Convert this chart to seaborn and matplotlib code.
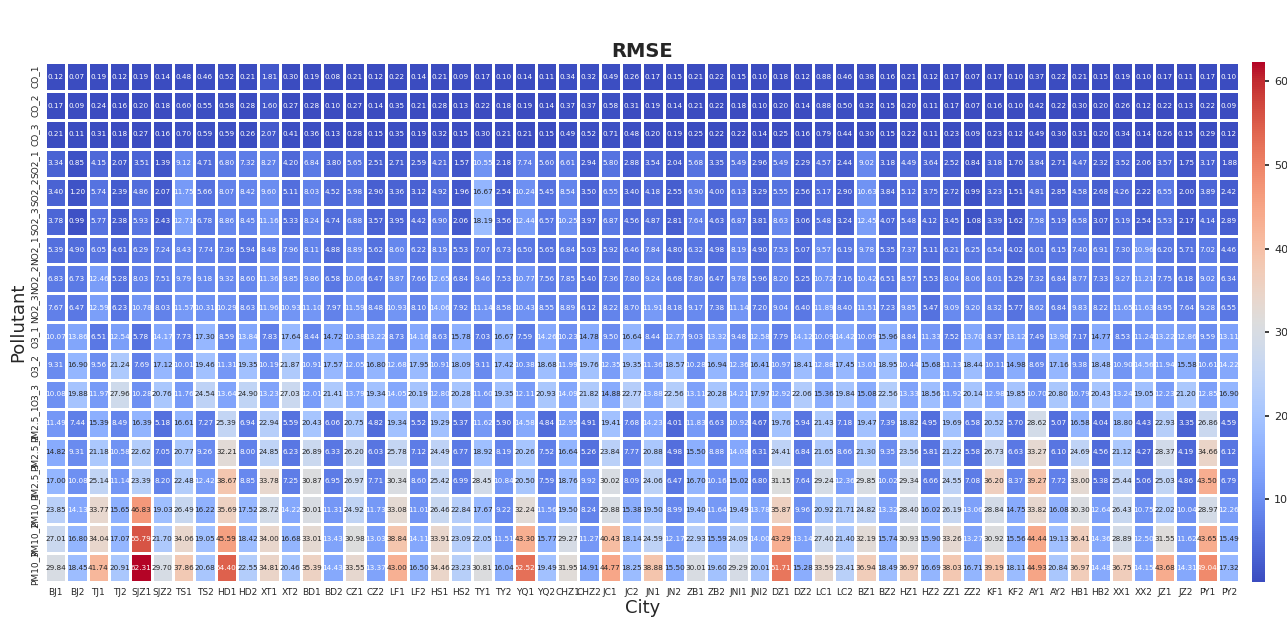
import numpy as np
import pandas as pd
import seaborn as sns
import matplotlib
matplotlib.use("Agg")
import matplotlib.pyplot as plt

cities = ["BJ1", "BJ2", "TJ1", "TJ2", "SJZ1", "SJZ2", "TS1", "TS2", "HD1", "HD2",
          "XT1", "XT2", "BD1", "BD2", "CZ1", "CZ2", "LF1", "LF2", "HS1", "HS2",
          "TY1", "TY2", "YQ1", "YQ2", "CHZ1", "CHZ2", "JC1", "JC2", "JN1", "JN2",
          "ZB1", "ZB2", "JNI1", "JNI2", "DZ1", "DZ2", "LC1", "LC2", "BZ1", "BZ2",
          "HZ1", "HZ2", "ZZ1", "ZZ2", "KF1", "KF2", "AY1", "AY2", "HB1", "HB2",
          "XX1", "XX2", "JZ1", "JZ2", "PY1", "PY2"]

pollutants = ["CO_1", "CO_2", "CO_3", "SO2_1", "SO2_2", "SO2_3",
              "NO2_1", "NO2_2", "NO2_3", "O3_1", "O3_2", "O3_3",
              "PM2.5_1", "PM2.5_2", "PM2.5_3", "PM10_1", "PM10_2", "PM10_3"]

co_1 = [0.12, 0.07, 0.19, 0.12, 0.19, 0.14, 0.48, 0.46, 0.52, 0.21, 1.81, 0.30, 0.19, 0.08,
        0.21, 0.12, 0.22, 0.14, 0.21, 0.09, 0.17, 0.10, 0.14, 0.11, 0.34, 0.32, 0.49, 0.26,
        0.17, 0.15, 0.21, 0.22, 0.15, 0.10, 0.18, 0.12, 0.88, 0.46, 0.38, 0.16, 0.21, 0.12,
        0.17, 0.07, 0.17, 0.10, 0.37, 0.22, 0.21, 0.15, 0.19, 0.10, 0.17, 0.11, 0.17, 0.10]
co_2 = [0.17, 0.09, 0.24, 0.16, 0.20, 0.18, 0.60, 0.55, 0.58, 0.28, 1.60, 0.27, 0.28, 0.10,
        0.27, 0.14, 0.35, 0.21, 0.28, 0.13, 0.22, 0.18, 0.19, 0.14, 0.37, 0.37, 0.58, 0.31,
        0.19, 0.14, 0.21, 0.22, 0.18, 0.10, 0.20, 0.14, 0.88, 0.50, 0.32, 0.15, 0.20, 0.11,
        0.17, 0.07, 0.16, 0.10, 0.42, 0.22, 0.30, 0.20, 0.26, 0.12, 0.22, 0.13, 0.22, 0.09]
co_3 = [0.21, 0.11, 0.31, 0.18, 0.27, 0.16, 0.70, 0.59, 0.59, 0.26, 2.07, 0.41, 0.36, 0.13,
        0.28, 0.15, 0.35, 0.19, 0.32, 0.15, 0.30, 0.21, 0.21, 0.15, 0.49, 0.52, 0.71, 0.48,
        0.20, 0.19, 0.25, 0.22, 0.22, 0.14, 0.25, 0.16, 0.79, 0.44, 0.30, 0.15, 0.22, 0.11,
        0.23, 0.09, 0.23, 0.12, 0.49, 0.30, 0.31, 0.20, 0.34, 0.14, 0.26, 0.15, 0.29, 0.12]
so2_1 = [3.34, 0.85, 4.15, 2.07, 3.51, 1.39, 9.12, 4.71, 6.80, 7.32, 8.27, 4.20, 6.84, 3.80,
         5.65, 2.51, 2.71, 2.59, 4.21, 1.57, 10.55, 2.18, 7.74, 5.60, 6.61, 2.94, 5.80, 2.88,
         3.54, 2.04, 5.68, 3.35, 5.49, 2.96, 5.49, 2.29, 4.57, 2.44, 9.02, 3.18, 4.49, 3.64,
         2.52, 0.84, 3.18, 1.70, 3.84, 2.71, 4.47, 2.32, 3.52, 2.06, 3.57, 1.75, 3.17, 1.88]
so2_2 = [3.40, 1.20, 5.74, 2.39, 4.86, 2.07, 11.75, 5.66, 8.07, 8.42, 9.60, 5.11, 8.03, 4.52,
         5.98, 2.90, 3.36, 3.12, 4.92, 1.96, 16.67, 2.54, 10.24, 5.45, 8.54, 3.50, 6.55, 3.40,
         4.18, 2.55, 6.90, 4.00, 6.13, 3.29, 5.55, 2.56, 5.17, 2.90, 10.63, 3.84, 5.12, 3.75,
         2.72, 0.99, 3.23, 1.51, 4.81, 2.85, 4.58, 2.68, 4.26, 2.22, 6.55, 2.00, 3.89, 2.42]
so2_3 = [3.78, 0.99, 5.77, 2.38, 5.93, 2.43, 12.71, 6.78, 8.86, 8.45, 11.16, 5.33, 8.24, 4.74,
         6.88, 3.57, 3.95, 4.42, 6.90, 2.06, 18.19, 3.56, 12.44, 6.57, 10.25, 3.97, 6.87, 4.56,
         4.87, 2.81, 7.64, 4.63, 6.87, 3.81, 8.63, 3.06, 5.48, 3.24, 12.45, 4.07, 5.48, 4.12,
         3.45, 1.08, 3.39, 1.62, 7.58, 5.19, 6.58, 3.07, 5.19, 2.54, 5.53, 2.17, 4.14, 2.89]
no2_1 = [5.39, 4.90, 6.05, 4.61, 6.29, 7.24, 8.43, 7.74, 7.36, 5.94, 8.48, 7.96, 8.11, 4.88,
         8.89, 5.62, 8.60, 6.22, 8.19, 5.53, 7.07, 6.73, 6.50, 5.65, 6.84, 5.03, 5.92, 6.46,
         7.84, 4.80, 6.32, 4.98, 8.19, 4.90, 7.53, 5.07, 9.57, 6.19, 9.78, 5.35, 7.37, 5.11,
         6.21, 6.25, 6.54, 4.02, 6.01, 6.15, 7.40, 6.91, 7.30, 10.96, 6.20, 5.71, 7.02, 4.46]
no2_2 = [6.83, 6.73, 12.46, 5.28, 8.03, 7.51, 9.79, 9.18, 9.32, 8.60, 11.36, 9.85, 9.86, 6.58,
         10.06, 6.47, 9.87, 7.66, 12.65, 6.84, 9.46, 7.53, 10.77, 7.56, 7.85, 5.40, 7.36, 7.80,
         9.24, 6.68, 7.80, 6.47, 9.78, 5.96, 8.20, 5.25, 10.72, 7.16, 10.42, 6.51, 8.57, 5.53,
         8.04, 8.06, 8.01, 5.29, 7.32, 6.84, 8.77, 7.33, 9.27, 11.21, 7.75, 6.18, 9.02, 6.34]
no2_3 = [7.67, 6.47, 12.59, 6.23, 10.78, 8.03, 11.57, 10.31, 10.29, 8.63, 11.96, 10.93, 11.10, 7.97,
         11.59, 8.48, 10.93, 8.10, 14.06, 7.92, 11.14, 8.58, 10.43, 8.55, 8.89, 6.12, 8.22, 8.70,
         11.91, 8.18, 9.17, 7.38, 11.14, 7.20, 9.04, 6.40, 11.89, 8.40, 11.51, 7.23, 9.85, 5.47,
         9.09, 9.20, 8.32, 5.77, 8.62, 6.84, 9.83, 8.22, 11.65, 11.63, 8.95, 7.64, 9.28, 6.55]
o3_1 = [10.07, 13.86, 6.51, 12.54, 5.78, 14.17, 7.73, 17.30, 8.59, 13.84, 7.83, 17.64, 8.44, 14.72,
        10.38, 13.22, 8.73, 14.16, 8.63, 15.78, 7.03, 16.67, 7.59, 14.26, 10.23, 14.78, 9.50, 16.64,
        8.44, 12.77, 9.03, 13.32, 9.48, 12.58, 7.79, 14.12, 10.09, 14.42, 10.09, 15.96, 8.84, 11.33,
        7.52, 13.70, 8.37, 13.12, 7.49, 13.90, 7.17, 14.77, 8.53, 11.24, 13.22, 12.86, 9.59, 13.11]
o3_2 = [9.31, 16.90, 9.56, 21.24, 7.69, 17.12, 10.01, 19.46, 11.31, 19.35, 10.19, 21.87, 10.91, 17.57,
        12.05, 16.80, 12.68, 17.95, 10.91, 18.09, 9.11, 17.42, 10.38, 18.68, 11.99, 19.76, 12.35, 19.35,
        11.36, 18.57, 10.28, 16.94, 12.36, 16.41, 10.97, 18.41, 12.88, 17.45, 13.01, 18.95, 10.44, 15.68,
        11.13, 18.44, 10.11, 14.98, 8.69, 17.16, 9.38, 18.48, 10.90, 14.56, 11.94, 15.58, 10.61, 14.22]
o3_3 = [10.08, 19.88, 11.97, 27.96, 10.28, 20.76, 11.76, 24.54, 13.64, 24.90, 13.23, 27.03, 12.01, 21.41,
        13.79, 19.34, 14.05, 20.19, 12.80, 20.28, 11.60, 19.35, 12.11, 20.93, 14.09, 21.82, 14.88, 22.77,
        13.88, 22.56, 13.11, 20.28, 14.21, 17.97, 12.92, 22.06, 15.36, 19.84, 15.08, 22.56, 13.33, 18.56,
        11.92, 20.14, 12.98, 19.85, 10.70, 20.80, 10.79, 20.43, 13.24, 19.05, 12.23, 21.20, 12.85, 16.90]
pm25_1 = [11.49, 7.44, 15.39, 8.49, 16.39, 5.18, 16.61, 7.27, 25.39, 6.94, 22.94, 5.59, 20.43, 6.06,
          20.75, 4.82, 19.34, 5.52, 19.29, 5.37, 11.62, 5.90, 14.58, 4.84, 12.95, 4.91, 19.41, 7.68,
          14.23, 4.01, 11.83, 6.63, 10.92, 4.67, 19.76, 5.94, 21.43, 7.18, 19.47, 7.39, 18.82, 4.95,
          19.69, 6.58, 20.52, 5.70, 28.62, 5.07, 16.58, 4.04, 18.80, 4.43, 22.93, 3.35, 26.86, 4.59]
pm25_2 = [14.82, 9.31, 21.18, 10.58, 22.62, 7.05, 20.77, 9.26, 32.21, 8.00, 24.85, 6.23, 26.89, 6.33,
          26.20, 6.03, 25.78, 7.12, 24.49, 6.77, 18.92, 8.19, 20.26, 7.52, 16.64, 5.26, 23.84, 7.77,
          20.88, 4.98, 15.50, 8.88, 14.08, 6.31, 24.41, 6.84, 21.65, 8.66, 21.30, 9.35, 23.56, 5.81,
          21.22, 5.58, 26.73, 6.63, 33.27, 6.10, 24.69, 4.56, 21.12, 4.27, 28.37, 4.19, 34.66, 6.12]
pm25_3 = [17.00, 10.08, 25.14, 11.14, 23.39, 8.20, 22.48, 12.42, 38.67, 8.85, 33.78, 7.25, 30.87, 6.95,
          26.97, 7.71, 30.34, 8.60, 25.42, 6.99, 28.45, 10.84, 20.50, 7.59, 18.76, 9.92, 30.02, 8.09,
          24.06, 6.47, 16.70, 10.16, 15.02, 6.80, 31.15, 7.64, 29.24, 12.36, 29.85, 10.02, 29.34, 6.66,
          24.55, 7.08, 36.20, 8.37, 39.27, 7.72, 33.00, 5.38, 25.44, 5.06, 25.03, 4.86, 43.50, 6.79]
pm10_1 = [23.85, 14.13, 33.77, 15.65, 46.83, 19.03, 26.49, 16.22, 35.69, 17.52, 28.72, 14.22, 30.01, 11.31,
          24.92, 11.73, 33.08, 11.01, 26.46, 22.84, 17.67, 9.22, 32.24, 11.56, 19.50, 8.24, 29.88, 15.38,
          19.50, 8.99, 19.40, 11.64, 19.49, 13.78, 35.87, 9.96, 20.92, 21.71, 24.82, 13.32, 28.40, 16.02,
          26.19, 13.06, 28.84, 14.75, 33.82, 16.08, 30.30, 12.64, 26.43, 10.75, 22.02, 10.04, 28.97, 12.26]
pm10_2 = [27.01, 16.80, 34.04, 17.07, 55.79, 21.70, 34.06, 19.05, 45.59, 18.42, 34.00, 16.68, 33.01, 13.43,
          30.98, 13.03, 38.84, 14.11, 33.91, 23.09, 22.05, 11.51, 43.30, 15.77, 29.27, 11.27, 40.43, 18.14,
          24.59, 12.17, 22.93, 15.59, 24.09, 14.00, 43.29, 13.14, 27.40, 21.40, 32.19, 15.74, 30.93, 15.90,
          33.26, 13.27, 30.92, 15.56, 44.44, 19.13, 36.41, 14.36, 28.89, 12.50, 31.55, 11.62, 43.65, 15.49]
pm10_3 = [29.84, 18.45, 41.74, 20.91, 62.31, 29.70, 37.86, 20.68, 54.40, 22.55, 34.81, 20.46, 35.39, 14.43,
          33.55, 13.37, 43.00, 16.50, 34.46, 23.23, 30.81, 16.04, 52.52, 19.49, 31.95, 14.91, 44.77, 18.25,
          38.88, 15.50, 30.01, 19.60, 29.29, 20.01, 51.71, 15.28, 33.59, 23.41, 36.94, 18.49, 36.97, 16.69,
          38.03, 16.71, 39.19, 18.11, 44.93, 20.84, 36.97, 14.48, 36.75, 14.15, 43.68, 14.31, 49.04, 17.32]

rows = [co_1, co_2, co_3, so2_1, so2_2, so2_3, no2_1, no2_2, no2_3,
        o3_1, o3_2, o3_3, pm25_1, pm25_2, pm25_3, pm10_1, pm10_2, pm10_3]
rmse = pd.DataFrame(rows, index=pollutants, columns=cities)

sns.set_theme(style="white")
plt.rcParams["font.family"] = ["DejaVu Sans"]

fig = plt.figure(figsize=(12.87, 6.28), dpi=100)
ax = fig.add_axes([0.035, 0.073, 0.928, 0.828])
cax = fig.add_axes([0.973, 0.073, 0.010, 0.828])

sns.heatmap(rmse, ax=ax, cbar_ax=cax, cmap="coolwarm", annot=True, fmt=".2f",
            annot_kws={"fontsize": 5.2}, linewidths=0.8, linecolor="white")

ax.set_title("RMSE", fontsize=14, fontweight="bold", pad=4)
ax.set_xlabel("City", fontsize=13, labelpad=2)
ax.set_ylabel("Pollutant", fontsize=13, labelpad=2)
ax.tick_params(axis="x", labelsize=6.5, rotation=0, length=3, pad=1)
ax.tick_params(axis="y", labelsize=6.5, rotation=90, length=3, pad=1)
for lbl in ax.get_yticklabels():
    lbl.set_va("center")
cax.tick_params(labelsize=8, length=3)
cax.set_yticks([10, 20, 30, 40, 50, 60])

fig.savefig("out.png", dpi=100)
